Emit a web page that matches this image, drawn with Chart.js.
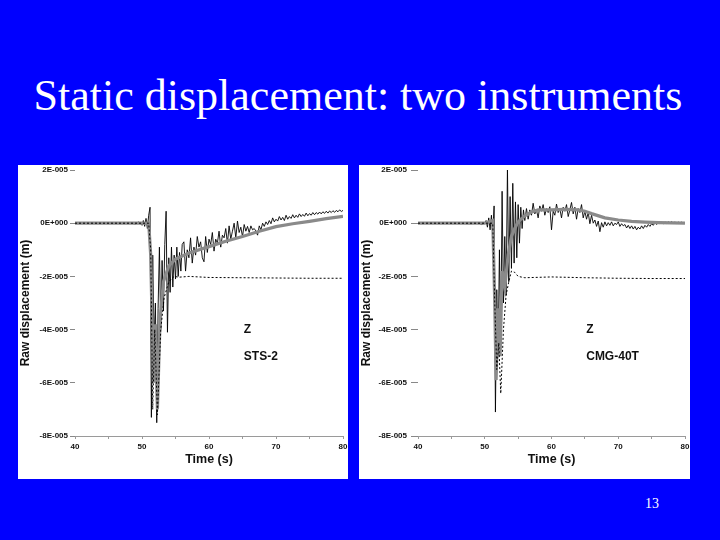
<!DOCTYPE html>
<html>
<head>
<meta charset="utf-8">
<script src="https://cdn.jsdelivr.net/npm/chart.js@4.4.1/dist/chart.umd.min.js"></script>
<style>
  html, body { margin: 0; padding: 0; }
  body { width: 720px; height: 540px; background: #0000ff; position: relative; overflow: hidden; }
  .title { position: absolute; left: 0; top: 74px; width: 716px; text-align: center; color: #fff;
           font-family: "Liberation Serif", "Times New Roman", serif; font-size: 44px; line-height: 44px; }
  .pagenum { position: absolute; left: 640px; top: 496px; width: 24px; text-align: center; color: #fff;
             font-family: "Liberation Serif", serif; font-size: 14px; }
  .panel { position: absolute; top: 165px; height: 314px; background: #fff; }
  #panelLeft { left: 18px; width: 330px; }
  #panelRight { left: 359px; width: 331px; }
  canvas { display: block; }
</style>
</head>
<body>
<div class="title">Static displacement: two instruments</div>
<div class="panel" id="panelLeft"><canvas id="chartSts" width="330" height="314"></canvas></div>
<div class="panel" id="panelRight"><canvas id="chartCmg" width="331" height="314"></canvas></div>
<div class="pagenum">13</div>

<script>
// displacement values are in units of 1E-005 m
const xTickValues = [40, 50, 60, 70, 80];
const xTickLabels = ['40', '50', '60', '70', '80'];
const yTickValues = [-8, -6, -4, -2, 0, 2];
const yTickLabels = ['-8E-005', '-6E-005', '-4E-005', '-2E-005', '0E+000', '2E-005'];

// raw trace sample times (s), shared by both instruments
const rawTime = [
  40, 45, 48, 49, 49.5,
  50, 50.2, 50.4, 50.6, 50.8, 51, 51.2, 51.4, 51.6, 51.8, 52, 52.2, 52.4, 52.6, 52.8,
  53, 53.2, 53.4, 53.6, 53.8, 54, 54.2, 54.4, 54.6, 54.8, 55, 55.2, 55.4, 55.6, 55.8, 56,
  56.25, 56.5, 56.75, 57, 57.25, 57.5, 57.75, 58, 58.25, 58.5, 58.75, 59, 59.25, 59.5, 59.75,
  60, 60.25, 60.5, 60.75, 61, 61.25, 61.5, 61.75, 62, 62.25, 62.5, 62.75, 63, 63.25, 63.5, 63.75,
  64, 64.25, 64.5, 64.75, 65, 65.25, 65.5, 65.75, 66, 66.25, 66.5, 66.75, 67, 67.25, 67.5, 67.75,
  68, 68.25, 68.5, 68.75, 69, 69.25, 69.5, 69.75, 70, 70.25, 70.5, 70.75, 71, 71.25, 71.5, 71.75,
  72, 72.25, 72.5, 72.75, 73, 73.25, 73.5, 73.75, 74, 74.25, 74.5, 74.75, 75, 75.25, 75.5, 75.75,
  76, 76.25, 76.5, 76.75, 77, 77.25, 77.5, 77.75, 78, 78.25, 78.5, 78.75, 79, 79.25, 79.5, 79.75, 80
];

// STS-2
const stsRaw = [
  0, 0, 0.02, -0.03, 0.05,
  -0.08, 0.1, -0.12, 0.18, -0.2, 0.3, 0.6, -7.3, -1.2, -4.5, -3.0, -7.5, -3.2, -0.9, -4.0,
  -1.4, -3.3, -0.8, 0.45, -4.1, -1.3, -2.6, -0.9, -2.4, -1.2, -2.1, -0.9, -2.0, -1.1, -1.8, -0.8,
  -0.7, -1.8, -1.0, -1.3, -0.55, -1.5, -0.9, -1.2, -0.5, -0.9, -0.7, -1.3, -1.45, -0.5, -1.1,
  -0.6, -0.8, -0.35, -1.05, -0.6, -0.75, -0.3, -0.9, -0.45, -0.55, -0.2, -0.75, -0.1, -0.6, -0.3, 0.0,
  -0.55, 0.08, -0.35, -0.15, -0.5, -0.05, -0.3, -0.12, -0.35, -0.1, -0.25, -0.2, -0.3, -0.45, -0.1, -0.25,
  0.0, -0.12, 0.05, -0.05, 0.1, -0.02, 0.2, 0.05, 0.15, 0.08, 0.25, 0.12, 0.22, 0.1, 0.3, 0.15,
  0.25, 0.18, 0.32, 0.2, 0.3, 0.22, 0.35, 0.25, 0.33, 0.26, 0.38, 0.28, 0.36, 0.3, 0.4, 0.32,
  0.4, 0.34, 0.42, 0.35, 0.43, 0.37, 0.45, 0.38, 0.46, 0.4, 0.47, 0.41, 0.48, 0.43, 0.5, 0.44, 0.48
];
const stsFitTime = [40, 48, 50, 51, 51.3, 51.7, 52, 52.3, 52.7, 53.2, 54, 55, 57, 60, 62.5, 65, 67.5, 70, 72.5, 75, 77.5, 80];
const stsFit = [0, 0, 0, 0, -1.2, -6.0, -3.8, -7.0, -3.6, -2.2, -1.6, -1.35, -1.12, -0.88, -0.68, -0.5, -0.3, -0.13, -0.02, 0.07, 0.17, 0.26];
const stsStaticTime = [40, 51, 51.3, 51.6, 51.9, 52.3, 52.8, 53.3, 54, 54.8, 55.5, 57, 60, 65, 70, 75, 80];
const stsStatic = [0, 0, -1.0, -7.0, -4.0, -7.2, -4.0, -2.8, -2.2, -2.0, -2.03, -2.0, -2.04, -2.05, -2.06, -2.07, -2.07];

// CMG-40T
const cmgRaw = [
  0, 0, -0.02, 0.03, -0.05,
  0.0, 0.1, -0.15, 0.2, -0.25, 0.3, -0.4, 0.65, -7.1, -2.5, -5.0, -1.0, -4.5, 1.2, -3.0,
  -0.5, -2.7, 2.1, -2.2, 1.0, -1.7, 1.5, -1.5, 0.8, -1.3, 0.7, -0.75, 0.6, -0.2, 0.5, 0.1,
  0.55, 0.15, 0.5, 0.3, 0.75, 0.35, 0.5, 0.2, 0.65, 0.45, 0.7, 0.3, 0.55, 0.4, 0.62,
  -0.25, 0.45, 0.3, 0.72, 0.4, 0.55, 0.2, 0.6, 0.45, 0.7, 0.25, 0.5, 0.78, 0.35, 0.6, 0.15,
  0.55, 0.4, 0.7, 0.2, 0.45, 0.15, 0.4, -0.02, 0.3, 0.0, 0.12, -0.12, 0.08, -0.32, 0.02, -0.15,
  0.05, -0.1, 0.02, -0.08, 0.05, -0.1, 0.0, -0.05, 0.05, -0.12, -0.02, -0.1, -0.05, -0.18, -0.08, -0.2,
  -0.1, -0.22, -0.12, -0.25, -0.15, -0.22, -0.1, -0.2, -0.08, -0.15, -0.05, -0.12, -0.02, -0.08, 0.02, -0.05,
  0.03, -0.03, 0.04, -0.02, 0.05, -0.01, 0.05, 0.0, 0.06, 0.0, 0.05, -0.01, 0.04, 0.0, 0.04, -0.01, 0.02
];
const cmgFitTime = [40, 48, 50, 51.2, 51.5, 51.7, 52, 52.3, 52.6, 53, 53.5, 54, 54.5, 55, 56, 57, 58, 60, 62, 64, 65, 66, 68, 70, 72, 74, 76, 78, 80];
const cmgFit = [0, 0, 0, 0.1, -3.0, -5.9, -3.2, -5.0, -1.8, -2.4, -1.2, -0.5, -0.2, 0.05, 0.28, 0.42, 0.5, 0.5, 0.52, 0.5, 0.45, 0.36, 0.2, 0.12, 0.07, 0.04, 0.02, 0.01, 0];
const cmgStaticTime = [40, 51.2, 51.5, 51.8, 52.1, 52.4, 52.8, 53.2, 53.6, 54, 54.5, 55, 56, 60, 65, 70, 75, 80];
const cmgStatic = [0, 0, -3.0, -5.5, -4.5, -6.4, -4.0, -2.7, -2.2, -1.8, -1.85, -2.0, -2.05, -2.02, -2.05, -2.07, -2.08, -2.08];

const FONT = '"Liberation Sans", Arial, sans-serif';

function toPoints(times, values) {
    return times.map((t, i) => ({ x: t, y: values[i] }));
}

// writes "Z" and the instrument name inside the plot
const notePlugin = {
    id: 'note',
    afterDatasetsDraw(chart, args, opts) {
        const { ctx, scales } = chart;
        ctx.save();
        ctx.fillStyle = '#111';
        ctx.font = 'bold 12px ' + FONT;
        ctx.textBaseline = 'middle';
        ctx.fillText('Z', scales.x.getPixelForValue(opts.x), scales.y.getPixelForValue(-4));
        ctx.fillText(opts.name, scales.x.getPixelForValue(opts.x), scales.y.getPixelForValue(-5));
        ctx.restore();
    }
};

function makeChart(canvasId, raw, fitTime, fit, staticTime, statics, name, yWidth, tickLen, labelPad) {
    const ctx = document.getElementById(canvasId).getContext('2d');
    return new Chart(ctx, {
        type: 'line',
        data: {
            datasets: [
                { data: toPoints(rawTime, raw), borderColor: '#000', borderWidth: 0.9, order: 3 },
                { data: toPoints(fitTime, fit), borderColor: '#8a8a8a', borderWidth: 3.2, order: 2 },
                { data: toPoints(staticTime, statics), borderColor: '#000', borderWidth: 1, borderDash: [2, 2], order: 1 }
            ]
        },
        options: {
            responsive: false,
            animation: false,
            events: [],
            elements: { point: { radius: 0 }, line: { tension: 0 } },
            layout: { padding: { top: 5, right: 5, left: 0, bottom: 0 } },
            plugins: {
                legend: { display: false },
                tooltip: { enabled: false },
                note: { x: 65.2, name }
            },
            scales: {
                x: {
                    type: 'linear',
                    min: 40,
                    max: 80,
                    afterFit: s => { s.height = 43; s.paddingLeft = 0; s.paddingRight = 0; },
                    border: { display: true, color: '#9a9a9a', width: 1 },
                    grid: { drawOnChartArea: false, tickLength: 3, color: '#9a9a9a' },
                    ticks: {
                        stepSize: 5,
                        maxRotation: 0,
                        padding: 3,
                        color: '#111',
                        font: { family: FONT, size: 8, weight: 'bold' },
                        callback: v => {
                            const i = xTickValues.indexOf(v);
                            return i >= 0 ? xTickLabels[i] : '';
                        }
                    },
                    title: {
                        display: true,
                        text: 'Time (s)',
                        color: '#111',
                        font: { family: FONT, size: 12.5, weight: 'bold' },
                        padding: { top: 0, bottom: 12 }
                    }
                },
                y: {
                    min: -8,
                    max: 2,
                    afterFit: s => { s.width = yWidth; s.paddingTop = 0; s.paddingBottom = 0; },
                    border: { display: false },
                    grid: { drawOnChartArea: false, tickLength: tickLen, color: '#888' },
                    ticks: {
                        stepSize: 2,
                        padding: labelPad,
                        color: '#111',
                        font: { family: FONT, size: 8, weight: 'bold' },
                        callback: v => {
                            const i = yTickValues.indexOf(v);
                            return i >= 0 ? yTickLabels[i] : '';
                        }
                    },
                    title: {
                        display: true,
                        text: 'Raw displacement (m)',
                        color: '#111',
                        font: { family: FONT, size: 12, weight: 'bold' },
                        padding: { top: 0, bottom: 0 }
                    }
                }
            }
        },
        plugins: [notePlugin]
    });
}

document.addEventListener('DOMContentLoaded', () => {
    makeChart('chartSts', stsRaw, stsFitTime, stsFit, stsStaticTime, stsStatic, 'STS-2', 57, 5, 2);
    makeChart('chartCmg', cmgRaw, cmgFitTime, cmgFit, cmgStaticTime, cmgStatic, 'CMG-40T', 59, 7, 4);
});
</script>
</body>
</html>
